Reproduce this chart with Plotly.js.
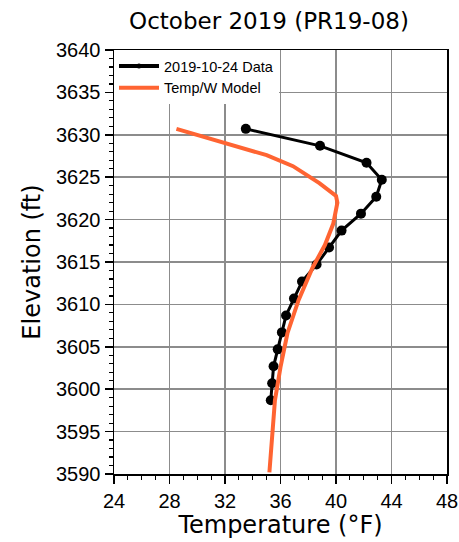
<!DOCTYPE html>
<html><head><meta charset="utf-8">
<script src="https://cdn.plot.ly/plotly-3.0.1.min.js"></script>
<style>html,body{margin:0;padding:0;background:#fff}#chart{width:459px;height:542px}</style>
</head><body><div id="chart"></div>
<script>
const dataTemp = [33.5, 38.85, 42.2, 43.3, 42.9, 41.8, 40.4, 39.5, 38.6, 37.55, 36.97, 36.4, 36.1, 35.8, 35.5, 35.4, 35.3];
const dataElev = [3630.7, 3628.7, 3626.7, 3624.7, 3622.7, 3620.7, 3618.7, 3616.7, 3614.7, 3612.7, 3610.7, 3608.7, 3606.7, 3604.7, 3602.7, 3600.7, 3598.7];
const modelTemp = [28.5, 32.0, 35.0, 36.9, 37.6, 38.8, 40.0, 40.1, 39.8, 39.2, 38.3, 37.3, 36.5, 36.0, 35.6, 35.4, 35.2];
const modelElev = [3630.7, 3629.0, 3627.6, 3626.3, 3625.6, 3624.3, 3622.8, 3622.0, 3619.5, 3617.0, 3614.3, 3610.5, 3606.6, 3602.6, 3598.7, 3594.8, 3590.2];
const xTicks = [24, 28, 32, 36, 40, 44, 48];
const yTicks = [3590, 3595, 3600, 3605, 3610, 3615, 3620, 3625, 3630, 3635, 3640];
const seriesNames = ['2019-10-24 Data', 'Temp/W Model'];

const FONT = 'Liberation Sans, Arial, sans-serif';
const TFONT = 'DejaVu Sans, sans-serif';
const BLACK = '#000', ORANGE = '#ff6432';
const traces = [
  {x: dataTemp, y: dataElev, mode: 'lines+markers', showlegend: false,
   line: {color: BLACK, width: 3}, marker: {color: BLACK, size: 10}},
  {x: modelTemp, y: modelElev, mode: 'lines', showlegend: false,
   line: {color: ORANGE, width: 4}},
  // legend entries (no data drawn)
  {x: [null], y: [null], mode: 'lines+markers', name: seriesNames[0],
   line: {color: BLACK, width: 4}, marker: {color: BLACK, size: 5}},
  {x: [null], y: [null], mode: 'lines', name: seriesNames[1],
   line: {color: ORANGE, width: 4}}
];
const axisCommon = {
  showline: true, linecolor: '#000', linewidth: 1.5, mirror: true,
  showgrid: true, gridcolor: '#8c8c8c', gridwidth: 1.5,
  ticks: 'outside', ticklen: 8, tickwidth: 1.5, tickcolor: '#000',
  zeroline: false, tickfont: {family: FONT, size: 20, color: '#000'}
};
const layout = {
  width: 459, height: 542,
  margin: {l: 114, r: 12, t: 50, b: 68},
  paper_bgcolor: '#fff', plot_bgcolor: '#fff',
  showlegend: true,
  title: {text: 'October 2019 (PR19-08)', font: {family: TFONT, size: 23, color: '#000'},
          x: 269/459, xanchor: 'center', y: 0.977, yanchor: 'top'},
  xaxis: Object.assign({}, axisCommon, {
    range: [24, 48], tickvals: xTicks, ticktext: xTicks.map(String),
    minor: {dtick: 1, ticklen: 4, tickwidth: 1.2, tickcolor: '#000', showgrid: false, ticks: 'outside'},
    title: {text: 'Temperature (°F)', font: {family: TFONT, size: 24, color: '#000'}, standoff: 4}
  }),
  yaxis: Object.assign({}, axisCommon, {
    range: [3590, 3640], tickvals: yTicks, ticktext: yTicks.map(String),
    minor: {dtick: 1, ticklen: 4, tickwidth: 1.2, tickcolor: '#000', showgrid: false, ticks: 'outside'},
    title: {text: 'Elevation (ft)', font: {family: TFONT, size: 24, color: '#000'}, standoff: 8}
  }),
  legend: {x: 0, y: 1, xanchor: 'left', yanchor: 'top', bgcolor: '#fff', borderwidth: 0,
           font: {family: FONT, size: 14.5, color: '#000'}, tracegroupgap: 0, itemwidth: 40}
};
Plotly.newPlot('chart', traces, layout, {displayModeBar: false, staticPlot: true});
</script></body></html>
